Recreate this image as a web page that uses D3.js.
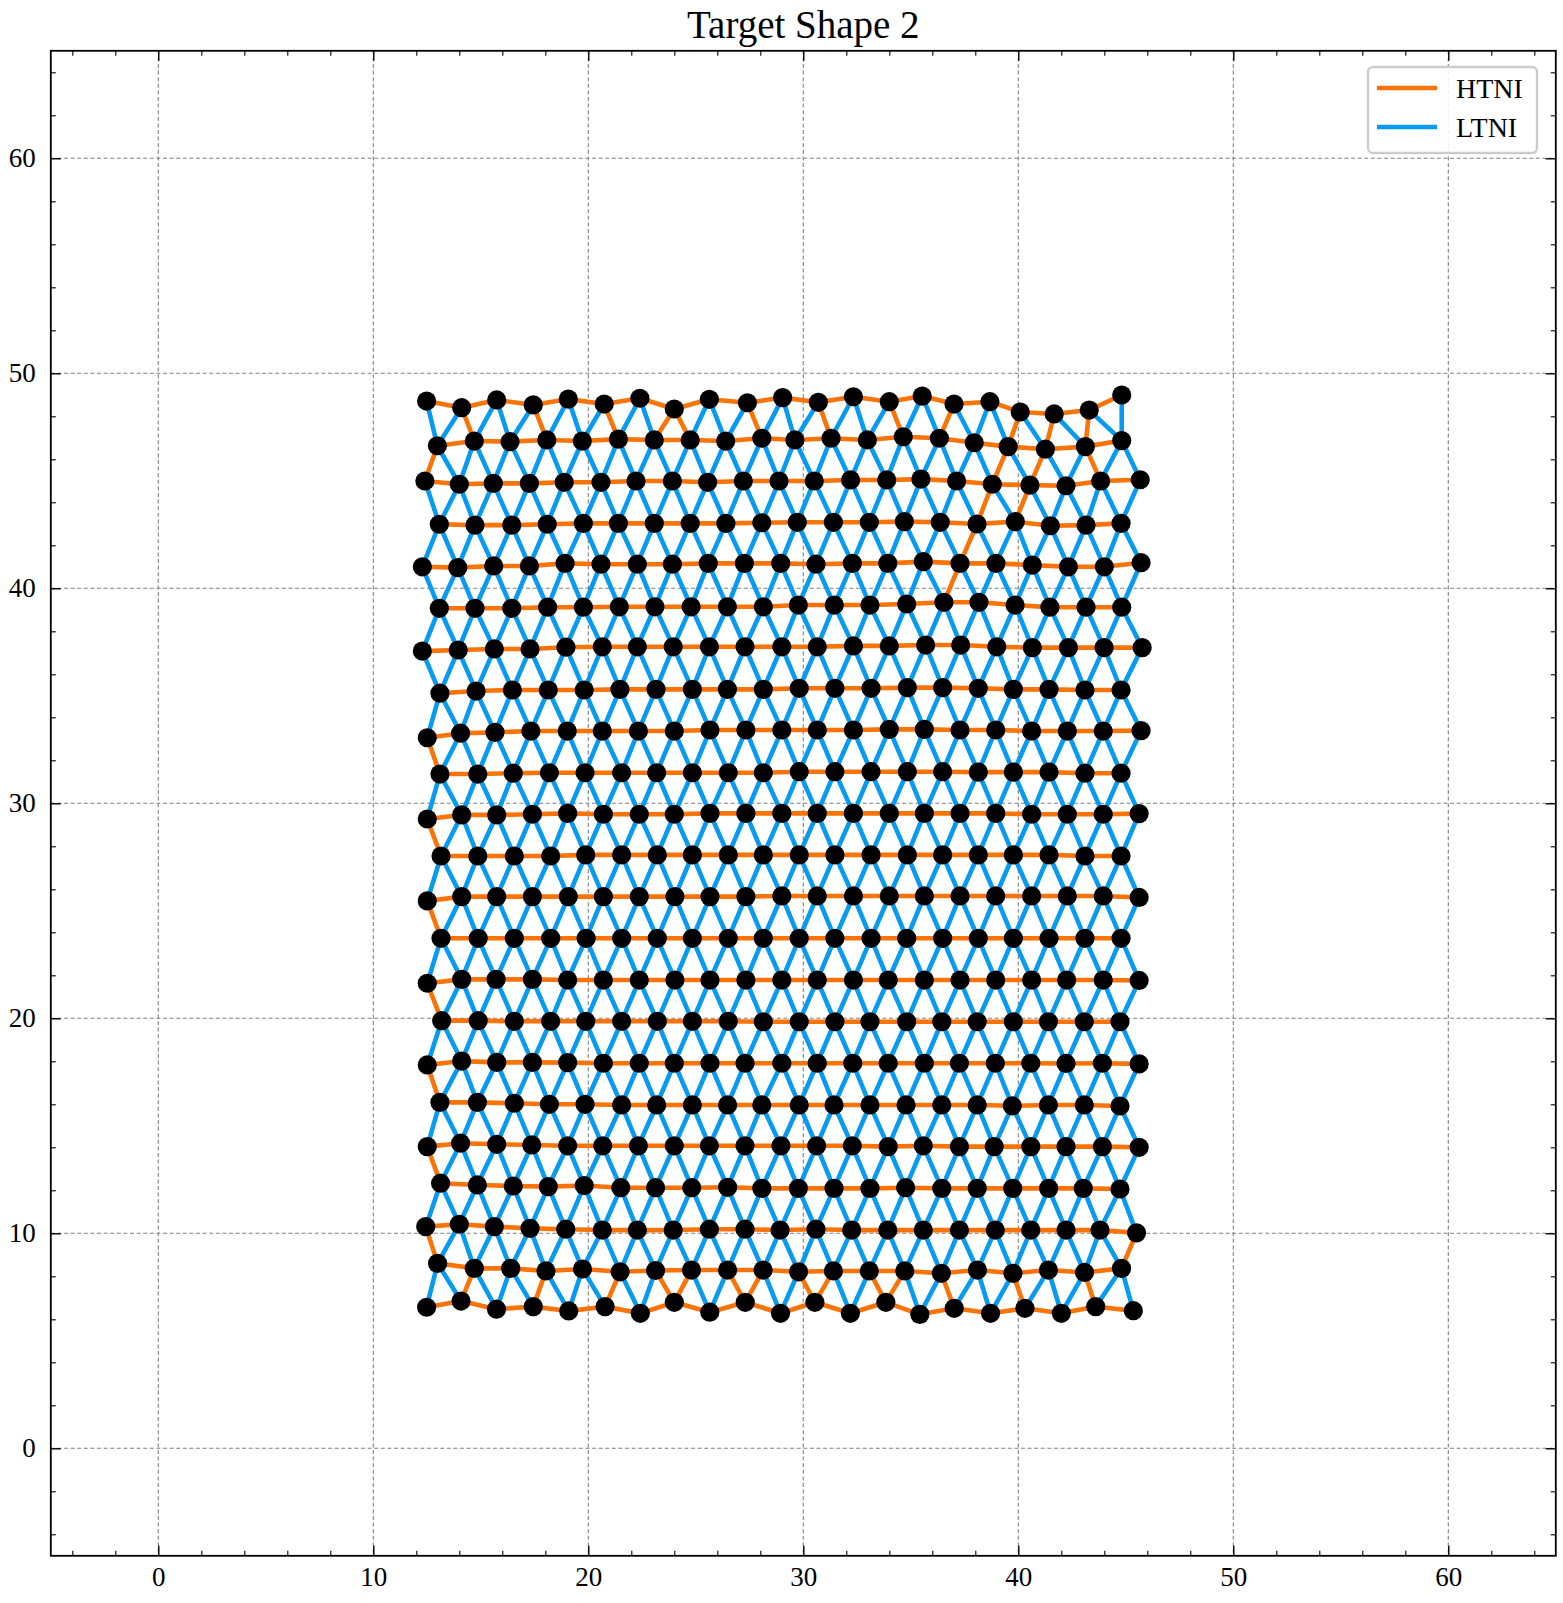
<!DOCTYPE html>
<html>
<head>
<meta charset="utf-8">
<script src="https://cdn.jsdelivr.net/npm/d3@7/dist/d3.min.js"></script>
<style>
  body { margin: 0; background: #fff; }
  text { font-family: "Liberation Serif", "DejaVu Serif", serif; fill: #000; }
</style>
</head>
<body>
<svg id="chart"></svg>
<script>
// node positions, one list per lattice row, bottom row first
var rowX = [
  [12.48, 14.08, 15.73, 17.44, 19.09, 20.78, 22.42, 24.00, 25.65, 27.30, 28.94, 30.54, 32.19, 33.84, 35.42, 37.02, 38.71, 40.31, 42.00, 43.60, 45.35],
  [12.99, 14.70, 16.39, 18.03, 19.73, 21.48, 23.13, 24.80, 26.48, 28.13, 29.78, 31.40, 33.07, 34.72, 36.42, 38.10, 39.75, 41.40, 43.08, 44.80],
  [12.44, 14.00, 15.63, 17.29, 18.95, 20.65, 22.28, 23.95, 25.63, 27.29, 28.92, 30.59, 32.25, 33.93, 35.58, 37.26, 38.93, 40.58, 42.22, 43.80, 45.50],
  [13.13, 14.84, 16.51, 18.14, 19.81, 21.51, 23.13, 24.81, 26.48, 28.07, 29.77, 31.43, 33.10, 34.76, 36.44, 38.09, 39.74, 41.41, 43.02, 44.73],
  [12.51, 14.06, 15.74, 17.37, 19.04, 20.67, 22.33, 24.00, 25.63, 27.29, 28.96, 30.62, 32.28, 33.95, 35.58, 37.26, 38.88, 40.58, 42.22, 43.91, 45.62],
  [13.10, 14.84, 16.56, 18.19, 19.85, 21.55, 23.18, 24.84, 26.48, 28.07, 29.81, 31.43, 33.10, 34.78, 36.44, 38.09, 39.72, 41.40, 43.07, 44.73],
  [12.51, 14.11, 15.74, 17.40, 19.04, 20.70, 22.37, 24.00, 25.66, 27.29, 29.00, 30.65, 32.30, 33.95, 35.63, 37.26, 38.93, 40.58, 42.22, 43.91, 45.62],
  [13.18, 14.88, 16.56, 18.25, 19.88, 21.55, 23.21, 24.84, 26.51, 28.14, 29.81, 31.47, 33.10, 34.81, 36.44, 38.09, 39.77, 41.40, 43.07, 44.73],
  [12.51, 14.11, 15.71, 17.40, 19.04, 20.70, 22.37, 24.03, 25.66, 27.33, 29.00, 30.65, 32.33, 33.95, 35.63, 37.29, 38.95, 40.62, 42.25, 43.95, 45.62],
  [13.15, 14.88, 16.56, 18.25, 19.90, 21.55, 23.21, 24.84, 26.51, 28.14, 29.81, 31.47, 33.15, 34.81, 36.48, 38.14, 39.77, 41.43, 43.10, 44.78],
  [12.51, 14.11, 15.74, 17.40, 19.07, 20.70, 22.37, 24.03, 25.66, 27.33, 29.00, 30.65, 32.33, 34.00, 35.63, 37.29, 38.95, 40.62, 42.28, 43.95, 45.62],
  [13.15, 14.86, 16.56, 18.25, 19.88, 21.55, 23.21, 24.84, 26.51, 28.14, 29.81, 31.47, 33.15, 34.84, 36.48, 38.14, 39.77, 41.43, 43.10, 44.78],
  [12.51, 14.11, 15.74, 17.40, 19.04, 20.70, 22.37, 24.00, 25.66, 27.33, 29.00, 30.65, 32.33, 34.00, 35.63, 37.29, 38.95, 40.62, 42.28, 43.95, 45.62],
  [13.10, 14.86, 16.51, 18.19, 19.85, 21.55, 23.18, 24.84, 26.51, 28.14, 29.81, 31.47, 33.15, 34.84, 36.48, 38.14, 39.77, 41.43, 43.10, 44.78],
  [12.51, 14.06, 15.66, 17.33, 19.02, 20.65, 22.33, 24.00, 25.66, 27.33, 29.00, 30.65, 32.33, 34.00, 35.63, 37.29, 38.95, 40.62, 42.28, 43.95, 45.71],
  [13.10, 14.78, 16.47, 18.14, 19.81, 21.47, 23.15, 24.84, 26.47, 28.14, 29.81, 31.47, 33.15, 34.84, 36.48, 38.14, 39.77, 41.43, 43.10, 44.78],
  [12.28, 13.95, 15.63, 17.29, 18.96, 20.65, 22.28, 23.95, 25.63, 27.29, 29.00, 30.65, 32.33, 34.00, 35.69, 37.32, 39.00, 40.65, 42.33, 43.99, 45.76],
  [13.07, 14.73, 16.44, 18.11, 19.77, 21.44, 23.10, 24.78, 26.47, 28.14, 29.77, 31.44, 33.10, 34.81, 36.54, 38.17, 39.85, 41.47, 43.15, 44.81],
  [12.28, 13.93, 15.60, 17.26, 18.92, 20.59, 22.28, 23.91, 25.58, 27.26, 28.95, 30.59, 32.28, 33.93, 35.58, 37.29, 38.96, 40.65, 42.33, 44.00, 45.71],
  [13.07, 14.73, 16.44, 18.09, 19.77, 21.40, 23.07, 24.74, 26.40, 28.07, 29.72, 31.40, 33.07, 34.70, 36.37, 38.08, 39.86, 41.49, 43.15, 44.78],
  [12.40, 14.00, 15.58, 17.26, 18.88, 20.59, 22.22, 23.91, 25.55, 27.21, 28.87, 30.51, 32.20, 33.88, 35.47, 37.13, 38.79, 40.54, 42.22, 43.83, 45.67],
  [12.98, 14.70, 16.36, 18.07, 19.72, 21.40, 23.07, 24.74, 26.39, 28.07, 29.61, 31.29, 32.98, 34.65, 36.33, 37.95, 39.53, 41.26, 43.12, 44.81],
  [12.48, 14.11, 15.74, 17.44, 19.07, 20.74, 22.40, 24.00, 25.63, 27.40, 29.04, 30.70, 32.33, 34.00, 35.53, 37.01, 38.68, 40.09, 41.67, 43.30, 44.81]
]

var rowY = [
  [6.56, 6.85, 6.47, 6.59, 6.39, 6.59, 6.28, 6.79, 6.33, 6.79, 6.28, 6.79, 6.28, 6.79, 6.23, 6.51, 6.28, 6.51, 6.28, 6.59, 6.40],
  [8.60, 8.37, 8.37, 8.25, 8.34, 8.21, 8.27, 8.29, 8.29, 8.29, 8.21, 8.25, 8.25, 8.25, 8.14, 8.29, 8.14, 8.29, 8.18, 8.37],
  [10.31, 10.42, 10.31, 10.23, 10.19, 10.15, 10.15, 10.15, 10.19, 10.19, 10.15, 10.19, 10.15, 10.15, 10.15, 10.15, 10.15, 10.15, 10.15, 10.15, 10.02],
  [12.33, 12.25, 12.20, 12.17, 12.22, 12.12, 12.12, 12.12, 12.14, 12.09, 12.09, 12.09, 12.09, 12.12, 12.09, 12.09, 12.09, 12.09, 12.09, 12.06],
  [14.03, 14.19, 14.14, 14.11, 14.07, 14.07, 14.07, 14.07, 14.07, 14.07, 14.07, 14.07, 14.07, 14.03, 14.07, 14.03, 14.03, 14.03, 14.03, 14.03, 14.00],
  [16.09, 16.09, 16.05, 16.00, 16.00, 15.97, 15.97, 15.97, 15.97, 15.97, 15.97, 15.97, 15.97, 15.97, 15.97, 15.97, 15.93, 15.97, 15.97, 15.92],
  [17.83, 18.01, 17.95, 17.95, 17.94, 17.91, 17.91, 17.91, 17.91, 17.91, 17.91, 17.91, 17.91, 17.91, 17.91, 17.91, 17.91, 17.91, 17.90, 17.91, 17.88],
  [19.89, 19.89, 19.86, 19.86, 19.86, 19.86, 19.86, 19.86, 19.86, 19.84, 19.84, 19.84, 19.84, 19.84, 19.84, 19.84, 19.84, 19.84, 19.84, 19.84],
  [21.63, 21.81, 21.81, 21.81, 21.78, 21.78, 21.78, 21.78, 21.78, 21.78, 21.78, 21.78, 21.78, 21.78, 21.78, 21.78, 21.78, 21.78, 21.78, 21.78, 21.76],
  [23.72, 23.72, 23.72, 23.72, 23.72, 23.72, 23.72, 23.72, 23.72, 23.72, 23.72, 23.72, 23.72, 23.72, 23.72, 23.72, 23.72, 23.72, 23.72, 23.72],
  [25.46, 25.66, 25.66, 25.66, 25.66, 25.66, 25.66, 25.66, 25.66, 25.66, 25.69, 25.69, 25.69, 25.69, 25.69, 25.69, 25.69, 25.69, 25.69, 25.69, 25.62],
  [27.55, 27.55, 27.55, 27.55, 27.60, 27.60, 27.60, 27.60, 27.60, 27.60, 27.60, 27.60, 27.60, 27.60, 27.60, 27.60, 27.60, 27.60, 27.55, 27.55],
  [29.27, 29.46, 29.46, 29.49, 29.53, 29.49, 29.49, 29.49, 29.53, 29.53, 29.53, 29.53, 29.53, 29.53, 29.53, 29.53, 29.53, 29.49, 29.49, 29.49, 29.52],
  [31.36, 31.36, 31.40, 31.42, 31.42, 31.42, 31.42, 31.42, 31.42, 31.42, 31.47, 31.47, 31.47, 31.47, 31.47, 31.45, 31.45, 31.45, 31.40, 31.40],
  [33.05, 33.26, 33.30, 33.36, 33.36, 33.36, 33.36, 33.36, 33.41, 33.41, 33.41, 33.41, 33.41, 33.44, 33.44, 33.41, 33.41, 33.36, 33.36, 33.36, 33.38],
  [35.12, 35.22, 35.27, 35.27, 35.27, 35.30, 35.30, 35.30, 35.30, 35.30, 35.35, 35.35, 35.35, 35.38, 35.38, 35.35, 35.30, 35.30, 35.27, 35.27],
  [37.08, 37.13, 37.18, 37.18, 37.26, 37.28, 37.28, 37.28, 37.28, 37.28, 37.28, 37.28, 37.32, 37.32, 37.36, 37.36, 37.28, 37.24, 37.24, 37.24, 37.24],
  [39.07, 39.07, 39.07, 39.12, 39.12, 39.14, 39.14, 39.14, 39.14, 39.14, 39.22, 39.22, 39.22, 39.27, 39.35, 39.35, 39.22, 39.12, 39.12, 39.12],
  [41.00, 40.96, 41.04, 41.04, 41.16, 41.12, 41.12, 41.12, 41.16, 41.16, 41.16, 41.12, 41.16, 41.16, 41.24, 41.16, 41.16, 41.08, 41.00, 41.00, 41.19],
  [42.98, 42.94, 42.94, 42.98, 43.02, 43.02, 43.02, 43.02, 43.02, 43.05, 43.07, 43.07, 43.07, 43.10, 43.07, 42.99, 43.10, 42.91, 42.94, 43.02],
  [44.99, 44.84, 44.88, 44.88, 44.93, 44.93, 44.99, 44.99, 44.93, 44.99, 44.99, 44.99, 45.04, 45.04, 45.08, 44.99, 44.84, 44.80, 44.77, 44.99, 45.05],
  [46.63, 46.85, 46.82, 46.90, 46.85, 46.94, 46.90, 46.90, 46.85, 46.98, 46.90, 46.98, 46.90, 47.05, 46.98, 46.77, 46.59, 46.47, 46.59, 46.87],
  [48.71, 48.40, 48.76, 48.53, 48.80, 48.57, 48.84, 48.34, 48.79, 48.63, 48.87, 48.65, 48.91, 48.68, 48.94, 48.57, 48.68, 48.20, 48.11, 48.29, 48.99]
]

// between-row links that are HTNI (row, index, row, index); all other between-row links are LTNI
var htniLinks = [
  [0,1,1,1],[0,3,1,3],[0,5,1,5],[0,7,1,6],[0,7,1,7],[0,9,1,8],[0,9,1,9],
  [0,11,1,10],[0,11,1,11],[0,13,1,12],[0,13,1,13],[0,15,1,14],[0,17,1,16],[0,19,1,18],
  [2,0,1,0],[4,0,3,0],[6,0,5,0],[8,0,7,0],[10,0,9,0],[12,0,11,0],[14,0,13,0],[20,0,21,0],
  [2,20,1,19],
  [22,1,21,1],[22,3,21,3],[22,5,21,5],[22,7,21,6],[22,7,21,7],[22,9,21,9],[22,11,21,11],
  [22,13,21,13],[22,15,21,14],[22,17,21,16],[22,18,21,17],[22,19,21,18],
  [21,16,20,16],[21,17,20,17],[21,18,20,19],[20,16,19,15],[20,17,19,16],[19,15,18,15],[18,15,17,14]
]

var majorTicks = [0, 10, 20, 30, 40, 50, 60]
var minorTicks = [-4, -2, 2, 4, 6, 8, 12, 14, 16, 18, 22, 24, 26, 28, 32, 34, 36, 38,
                  42, 44, 46, 48, 52, 54, 56, 58, 62, 64]
var legendNames = ["HTNI", "LTNI"]
var legendColors = ["#f97306", "#069af3"]
var titleText = "Target Shape 2"

var screen = {width: 1563, height: 1603}
var plot = {left: 50.8, top: 50.8, right: 1555.8, bottom: 1555.8}
var serif = "'Liberation Serif', 'DejaVu Serif', serif"

var linkKey = function(r1, j1, r2, j2)
{
    if (r1 > r2) { return r2 + "_" + j2 + "_" + r1 + "_" + j1 }
    return r1 + "_" + j1 + "_" + r2 + "_" + j2
}

var buildLinks = function()
{
    var hot = {}
    htniLinks.forEach(function(l) { hot[linkKey(l[0], l[1], l[2], l[3])] = true })
    var links = []
    rowX.forEach(function(xs, r)
    {
        for (var j = 0; j < xs.length - 1; j++)
        {
            links.push({r1: r, j1: j, r2: r, j2: j + 1, kind: 0})
        }
    })
    for (var r = 0; r < rowX.length - 1; r++)
    {
        var s = rowX[r].length < rowX[r + 1].length ? r : r + 1
        var l = s == r ? r + 1 : r
        for (var j = 0; j < rowX[s].length; j++)
        {
            [j, j + 1].forEach(function(k)
            {
                var key = linkKey(s, j, l, k)
                links.push({r1: s, j1: j, r2: l, j2: k, kind: hot[key] ? 0 : 1})
            })
        }
    }
    return links
}

var drawAxes = function(svg, xScale, yScale)
{
    var grid = svg.append("g").classed("grid", true)
    grid.selectAll("line.gx")
        .data(majorTicks)
        .enter()
        .append("line")
        .attr("x1", function(d) { return xScale(d) })
        .attr("x2", function(d) { return xScale(d) })
        .attr("y1", plot.top)
        .attr("y2", plot.bottom)
    grid.selectAll("line.gy")
        .data(majorTicks)
        .enter()
        .append("line")
        .attr("y1", function(d) { return yScale(d) })
        .attr("y2", function(d) { return yScale(d) })
        .attr("x1", plot.left)
        .attr("x2", plot.right)
    grid.selectAll("line")
        .attr("stroke", "#808080")
        .attr("stroke-width", 1.1)
        .attr("stroke-dasharray", "4,2.6")

    var axes = svg.append("g").classed("axes", true)
    var sides = [
        {axis: d3.axisBottom, scale: xScale, t: "translate(0," + plot.bottom + ")", labels: true},
        {axis: d3.axisLeft, scale: yScale, t: "translate(" + plot.left + ",0)", labels: true},
        {axis: d3.axisTop, scale: xScale, t: "translate(0," + plot.top + ")", labels: false},
        {axis: d3.axisRight, scale: yScale, t: "translate(" + plot.right + ",0)", labels: false}
    ]
    sides.forEach(function(s)
    {
        var major = s.axis(s.scale).tickValues(majorTicks).tickSize(-10)
            .tickPadding(s.axis == d3.axisLeft ? 15 : 11)
        if (!s.labels) { major.tickFormat("") }
        var g = axes.append("g").attr("transform", s.t).call(major)
        g.attr("font-family", serif).attr("font-size", 27)
        g.select(".domain").remove()
        g.selectAll("text")
            .style("font-family", serif)
            .style("font-size", "27px")
            .attr("fill", "#000")
        g.selectAll("line").attr("stroke", "#000").attr("stroke-width", 1.4)

        var minor = s.axis(s.scale).tickValues(minorTicks).tickSize(-5).tickFormat("")
        var m = axes.append("g").attr("transform", s.t).call(minor)
        m.select(".domain").remove()
        m.selectAll("line").attr("stroke", "#000").attr("stroke-width", 1.1)
    })

    axes.append("rect")
        .attr("x", plot.left)
        .attr("y", plot.top)
        .attr("width", plot.right - plot.left)
        .attr("height", plot.bottom - plot.top)
        .attr("fill", "none")
        .attr("stroke", "#000")
        .attr("stroke-width", 1.8)
}

var drawLattice = function(svg, xScale, yScale)
{
    var links = buildLinks()
    var px = function(r, j) { return xScale(rowX[r][j]) }
    var py = function(r, j) { return yScale(rowY[r][j]) }

    var net = svg.append("g").classed("lattice", true)
    net.selectAll("line")
        .data(links.filter(function(l) { return l.kind == 1 }).concat(links.filter(function(l) { return l.kind == 0 })))
        .enter()
        .append("line")
        .attr("x1", function(l) { return px(l.r1, l.j1) })
        .attr("y1", function(l) { return py(l.r1, l.j1) })
        .attr("x2", function(l) { return px(l.r2, l.j2) })
        .attr("y2", function(l) { return py(l.r2, l.j2) })
        .attr("stroke", function(l) { return legendColors[l.kind] })
        .attr("stroke-width", 4.6)
        .attr("stroke-linecap", "round")

    var nodes = []
    rowX.forEach(function(xs, r)
    {
        xs.forEach(function(v, j) { nodes.push({x: v, y: rowY[r][j]}) })
    })
    net.selectAll("circle")
        .data(nodes)
        .enter()
        .append("circle")
        .attr("cx", function(n) { return xScale(n.x) })
        .attr("cy", function(n) { return yScale(n.y) })
        .attr("r", 9.6)
        .attr("fill", "#000")
}

var drawLegend = function(svg)
{
    var lg = svg.append("g").classed("legend", true)
        .attr("transform", "translate(1368,67)")
    lg.append("rect")
        .attr("width", 169)
        .attr("height", 86)
        .attr("rx", 5)
        .attr("fill", "#fff")
        .attr("fill-opacity", 0.85)
        .attr("stroke", "#cccccc")
        .attr("stroke-width", 2.4)
    var items = lg.selectAll("g.item")
        .data(legendNames)
        .enter()
        .append("g")
        .attr("transform", function(d, i) { return "translate(0," + (21 + i * 39) + ")" })
    items.append("line")
        .attr("x1", 9)
        .attr("x2", 69)
        .attr("stroke", function(d, i) { return legendColors[i] })
        .attr("stroke-width", 4.6)
    items.append("text")
        .attr("x", 88)
        .attr("y", 10)
        .attr("font-size", 28)
        .text(function(d) { return d })
}

var displayChart = function(target)
{
    var svg = d3.select(target)
        .attr("width", screen.width)
        .attr("height", screen.height)

    var xScale = d3.scaleLinear().domain([-5, 65]).range([plot.left, plot.right])
    var yScale = d3.scaleLinear().domain([-5, 65]).range([plot.bottom, plot.top])

    drawAxes(svg, xScale, yScale)
    drawLattice(svg, xScale, yScale)
    drawLegend(svg)

    svg.append("text")
        .attr("x", (plot.left + plot.right) / 2)
        .attr("y", 38)
        .attr("text-anchor", "middle")
        .attr("font-size", 39)
        .text(titleText)
}

displayChart("#chart")
</script>
</body>
</html>
